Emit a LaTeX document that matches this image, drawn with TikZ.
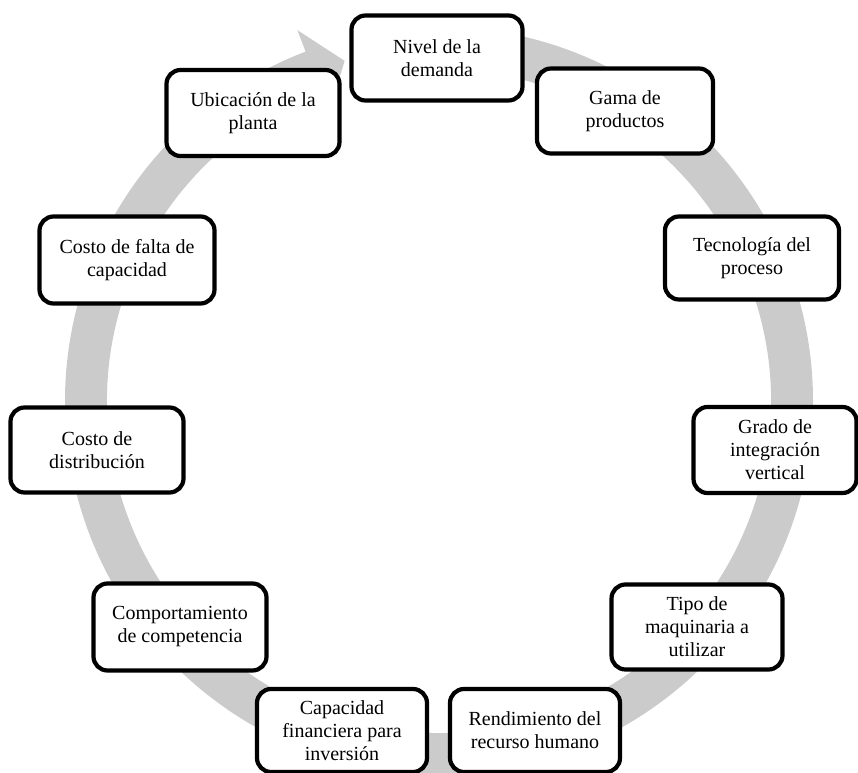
\documentclass[tikz,border=0pt]{standalone}
\usepackage{fontspec}
\setmainfont{Liberation Serif}
\definecolor{ringgray}{HTML}{CBCBCB}
\tikzset{
  factor/.style={draw=black, line width=4.2pt, fill=white, rounded corners=14pt,
    align=center, inner sep=2pt, font=\fontsize{20}{23}\selectfont,
    minimum width=#1},
  factor/.default=172pt
}
\begin{document}
\begin{tikzpicture}[x=1pt,y=1pt]
\useasboundingbox (0,0) rectangle (858,772);
% circular arrow
\begin{scope}[shift={(439,371)}]
\fill[ringgray] (90:374) arc[start angle=90, end angle=-249.1, radius=374pt]
  -- (-249.1:397) -- (-254.5:353) -- (-249.1:309) -- (-249.1:332)
  arc[start angle=-249.1, end angle=90, radius=332pt] -- cycle;
\end{scope}
% boxes
\node[factor=171pt, minimum height=85pt] (nivel) at (437,714) {Nivel de la\\demanda};
\node[factor=176pt, minimum height=85pt] (gama) at (625,661) {Gama de\\productos};
\node[factor=174pt, minimum height=83pt] (tecno) at (752,514) {Tecnología del\\proceso};
\node[factor=163pt, minimum height=86pt] (grado) at (775,322) {Grado de\\integración\\vertical};
\node[factor=171pt, minimum height=85pt] (tipo) at (697,145) {Tipo de\\maquinaria a\\utilizar};
\node[factor=170pt, minimum height=83pt] (rend) at (535,41.5) {Rendimiento del\\recurso humano};
\node[factor=170pt, minimum height=83pt] (capac) at (342,41.5) {Capacidad\\financiera para\\inversión};
\node[factor=173pt, minimum height=87pt] (comp) at (180,145) {Comportamiento\\de competencia};
\node[factor=173pt, minimum height=85pt] (dist) at (97,322) {Costo de\\distribución};
\node[factor=175pt, minimum height=87pt] (falta) at (127,512) {Costo de falta de\\capacidad};
\node[factor=173pt, minimum height=86pt] (ubic) at (253,659) {Ubicación de la\\planta};
\end{tikzpicture}
\end{document}
